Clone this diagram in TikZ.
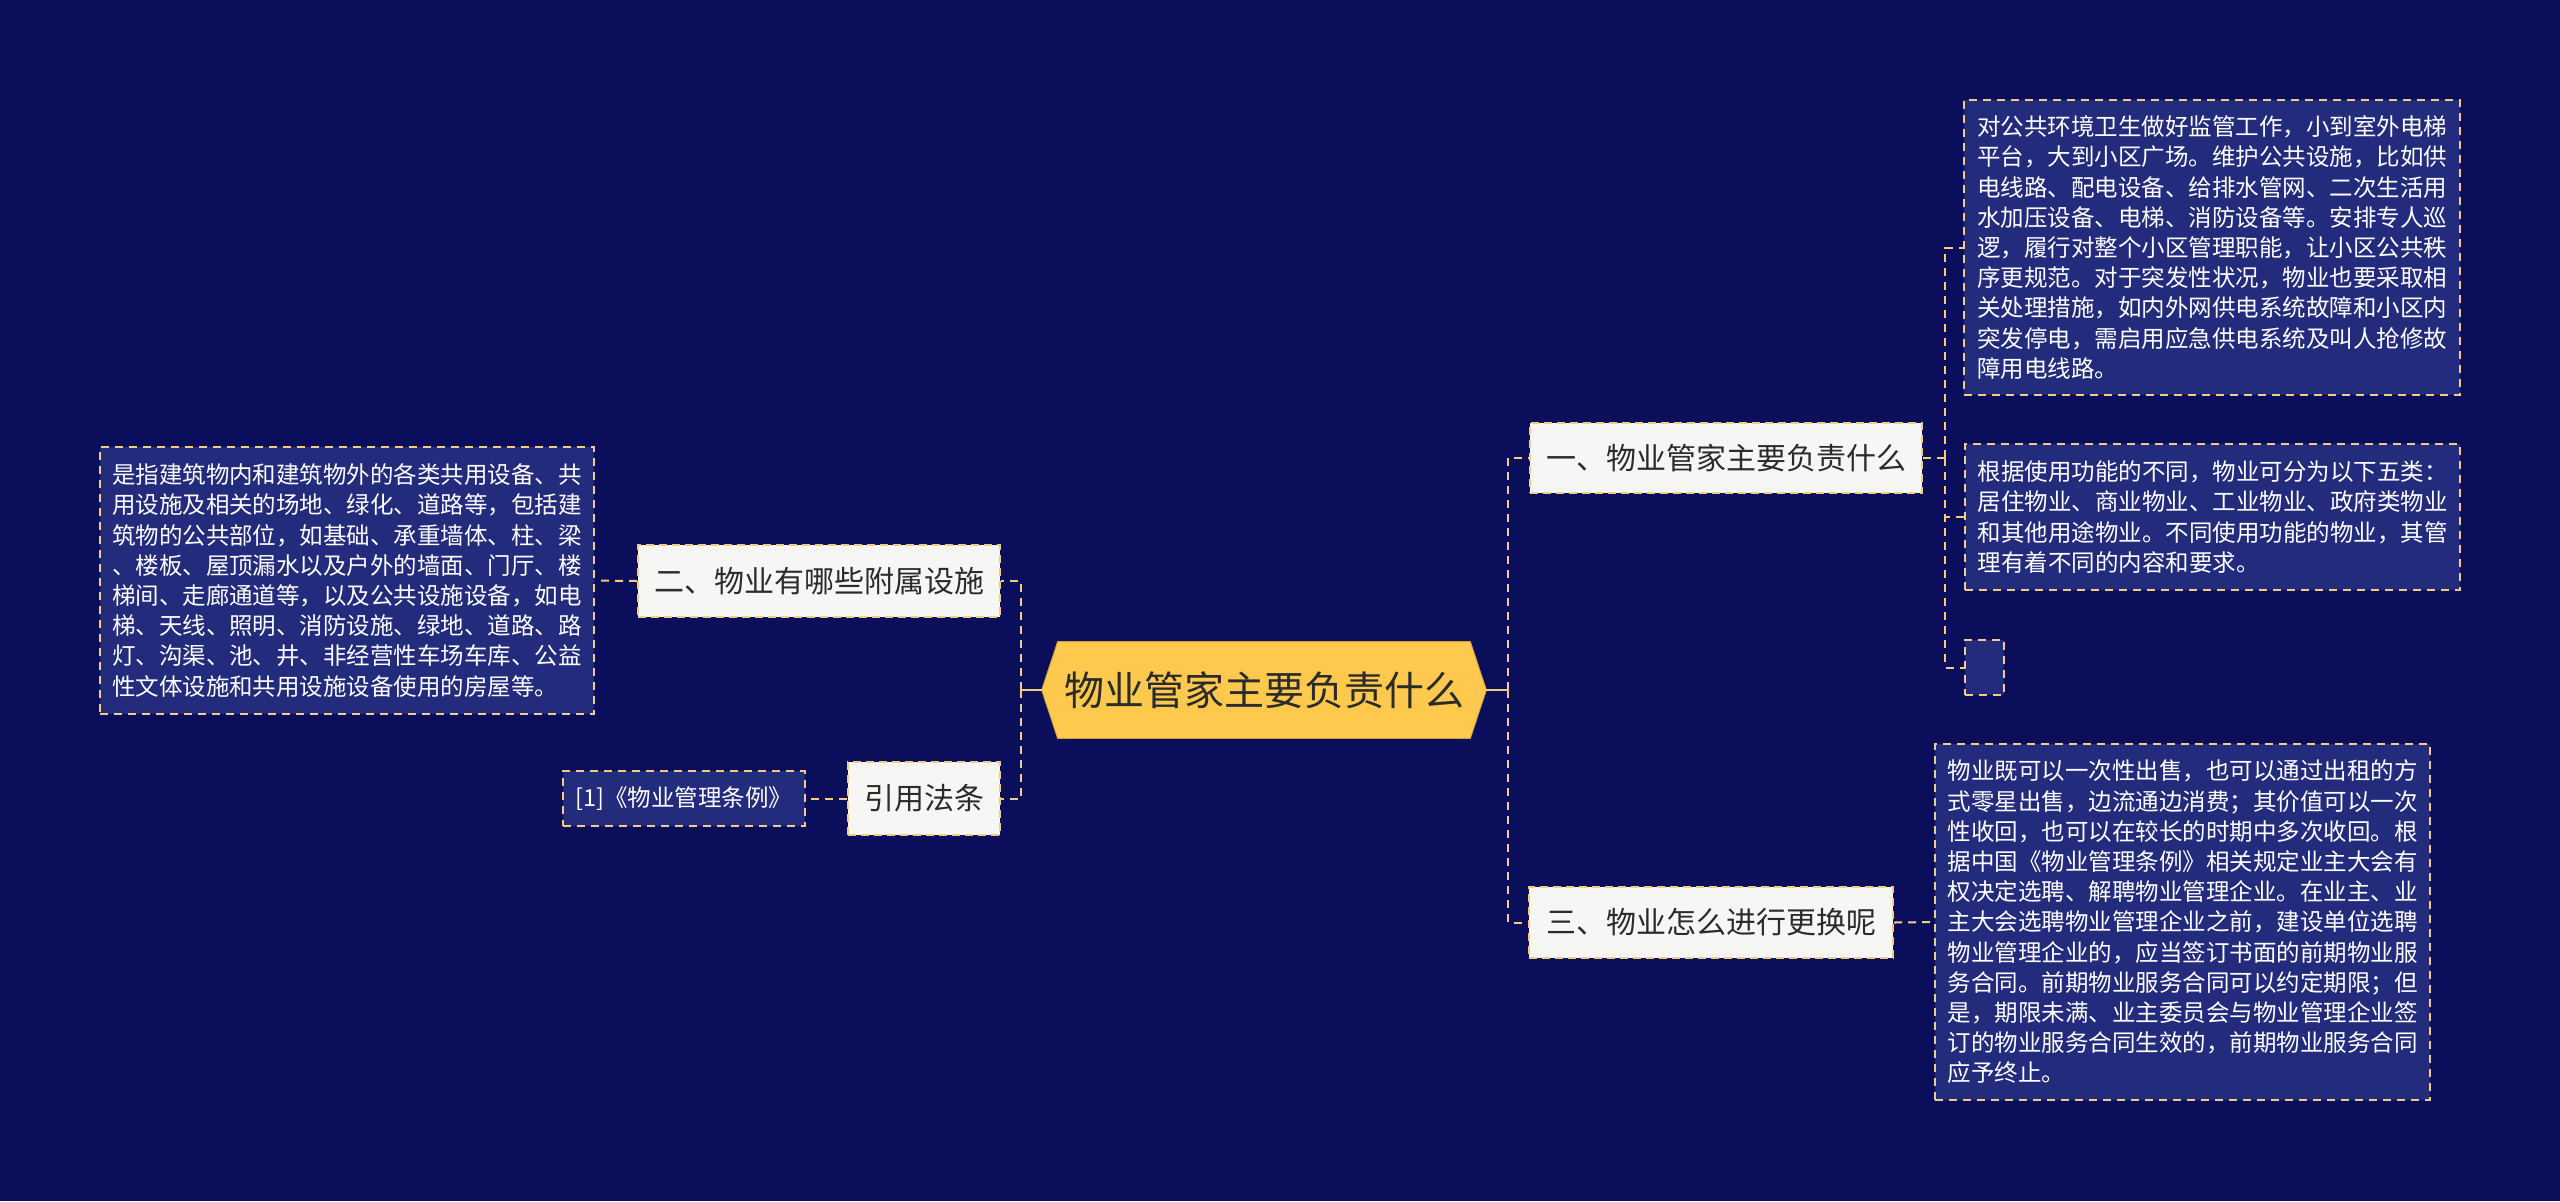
\documentclass[tikz,border=0pt]{standalone}
\usepackage{fontspec}
\setmainfont{Noto Sans CJK SC}
\definecolor{bgc}{HTML}{0B0F5B}
\definecolor{boxc}{HTML}{232C7C}
\definecolor{lightc}{HTML}{F6F6F4}
\definecolor{dashc}{HTML}{F3CD7F}
\definecolor{mainc}{HTML}{FEC94C}
\definecolor{darktext}{HTML}{2B2B2B}
\tikzset{
  conn/.style={draw=dashc, line width=1pt, dash pattern=on 4pt off 3pt},
  solidconn/.style={draw=dashc, line width=1.2pt},
  lightbox/.style={draw=dashc, fill=lightc, line width=1pt, dash pattern=on 4pt off 2.5pt,
    text=darktext, font=\fontsize{15pt}{18pt}\selectfont, inner sep=0pt, align=center},
  textbox/.style={draw=dashc, fill=boxc, line width=1pt, dash pattern=on 4pt off 3pt,
    text=white, font=\fontsize{11.75pt}{15.1pt}\selectfont, inner sep=0pt, align=left},
}
\begin{document}
\begin{tikzpicture}[x=0.5pt,y=-0.5pt]
\fill[bgc] (0,0) rectangle (2560,1201);
\useasboundingbox (0,0) rectangle (2560,1201);

% central
\node[inner sep=0pt, minimum width=222pt, minimum height=48pt] (c) at (1264,690) {};
\fill[mainc, draw=mainc!80!black, line width=0.4pt] (c.west) -- ([xshift=8pt]c.north west) -- ([xshift=-8pt]c.north east) -- (c.east) -- ([xshift=-8pt]c.south east) -- ([xshift=8pt]c.south west) -- cycle;
\node[text=darktext, font=\fontsize{20pt}{24pt}\selectfont] (ct) at (c.center) {物业管家主要负责什么};

% level 1
\node[lightbox, minimum width=196pt, minimum height=35pt] (n1) at (1726,458) {一、物业管家主要负责什么};
\node[lightbox, minimum width=182pt, minimum height=35.5pt] (n3) at (1711,922.5) {三、物业怎么进行更换呢};
\node[lightbox, minimum width=181pt, minimum height=36pt] (n2) at (819,581) {二、物业有哪些附属设施};
\node[lightbox, minimum width=76pt, minimum height=36.5pt] (n4) at (924,798.5) {引用法条};

% leaves
\node[textbox, minimum width=121pt, minimum height=27.5pt, align=center] (r1) at (684,798.5) {[1]《物业管理条例》};

\node[textbox, minimum width=247pt, minimum height=133.5pt, text width=235pt] (lb) at (347,580.5) {是指建筑物内和建筑物外的各类共用设备、共\\用设施及相关的场地、绿化、道路等，包括建\\筑物的公共部位，如基础、承重墙体、柱、梁\\、楼板、屋顶漏水以及户外的墙面、门厅、楼\\梯间、走廊通道等，以及公共设施设备，如电\\梯、天线、照明、消防设施、绿地、道路、路\\灯、沟渠、池、井、非经营性车场车库、公益\\性文体设施和共用设施设备使用的房屋等。};

\node[textbox, minimum width=248pt, minimum height=147.5pt, text width=235pt] (t1) at (2212,247.5) {对公共环境卫生做好监管工作，小到室外电梯\\平台，大到小区广场。维护公共设施，比如供\\电线路、配电设备、给排水管网、二次生活用\\水加压设备、电梯、消防设备等。安排专人巡\\逻，履行对整个小区管理职能，让小区公共秩\\序更规范。对于突发性状况，物业也要采取相\\关处理措施，如内外网供电系统故障和小区内\\突发停电，需启用应急供电系统及叫人抢修故\\障用电线路。};

\node[textbox, minimum width=247.5pt, minimum height=73pt, text width=235pt] (t2) at (2212.5,517) {根据使用功能的不同，物业可分为以下五类：\\居住物业、商业物业、工业物业、政府类物业\\和其他用途物业。不同使用功能的物业，其管\\理有着不同的内容和要求。};

\node[textbox, minimum width=19.5pt, minimum height=27.5pt] (t3) at (1984.5,667.5) {};

\node[textbox, minimum width=247.5pt, minimum height=178pt, text width=235pt] (b3) at (2182.5,922) {物业既可以一次性出售，也可以通过出租的方\\式零星出售，边流通边消费；其价值可以一次\\性收回，也可以在较长的时期中多次收回。根\\据中国《物业管理条例》相关规定业主大会有\\权决定选聘、解聘物业管理企业。在业主、业\\主大会选聘物业管理企业之前，建设单位选聘\\物业管理企业的，应当签订书面的前期物业服\\务合同。前期物业服务合同可以约定期限；但\\是，期限未满、业主委员会与物业管理企业签\\订的物业服务合同生效的，前期物业服务合同\\应予终止。};

% connectors
\coordinate (bR) at (1508,690);
\coordinate (bL) at (1021,690);
\coordinate (bT) at (1945,458);
\draw[solidconn] (c.east) -- (bR);
\draw[solidconn] (c.west) -- (bL);
\draw[conn] (bR) |- (n1.west);
\draw[conn] (bR) |- (n3.west);
\draw[conn] (bL) |- (n2.east);
\draw[conn] (bL) |- (n4.east);
\draw[conn] (n1.east) -- (bT);
\draw[conn] (bT) |- (t1.west);
\draw[conn] (bT) |- (t2.west);
\draw[conn] (bT) |- (t3.west);
\draw[conn] (n3.east) -- (b3.west);
\draw[conn] (n2.west) -- (lb.east);
\draw[conn] (n4.west) -- (r1.east);
\end{tikzpicture}
\end{document}
